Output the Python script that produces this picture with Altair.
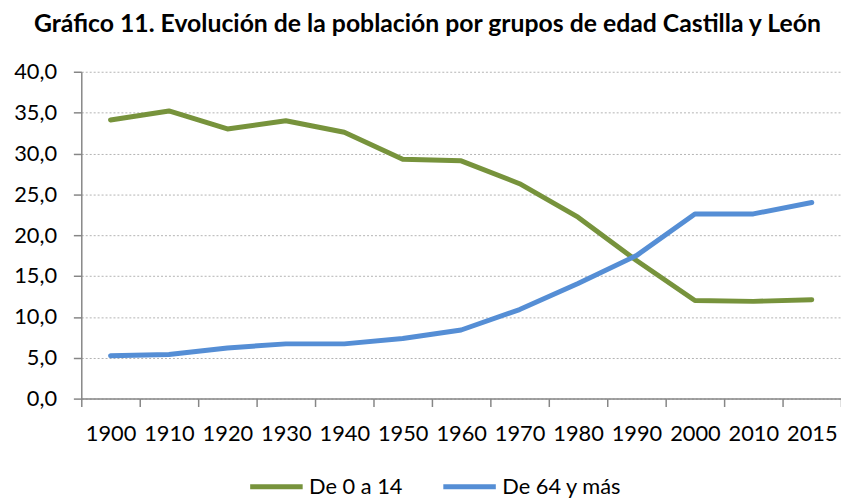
import altair as alt
import pandas as pd

years = ["1900", "1910", "1920", "1930", "1940", "1950", "1960",
         "1970", "1980", "1990", "2000", "2010", "2015"]
young = [34.1, 35.2, 33.0, 34.0, 32.6, 29.3, 29.1, 26.3, 22.2, 16.9, 12.0, 11.9, 12.1]
old = [5.25, 5.4, 6.2, 6.7, 6.7, 7.35, 8.4, 10.9, 14.1, 17.5, 22.6, 22.6, 24.0]
series = ["De 0 a 14", "De 64 y más"]
colors = ["#77933C", "#558ED5"]
y_ticks = [0, 5, 10, 15, 20, 25, 30, 35, 40]

rows = []
for y, v in zip(years, young):
    rows.append({"year": y, "value": v, "serie": series[0]})
for y, v in zip(years, old):
    rows.append({"year": y, "value": v, "serie": series[1]})
df = pd.DataFrame(rows)

FONT = "Lato"

chart = alt.Chart(df).mark_line(strokeWidth=5, strokeCap="round", strokeJoin="round").encode(
    x=alt.X("year:N", sort=years, bandPosition=0.5,
            scale=alt.Scale(type="band", paddingInner=0, paddingOuter=0),
            axis=alt.Axis(title=None, labelAngle=0, tickBand="extent", grid=False,
                          tickSize=8, labelPadding=17)),
    y=alt.Y("value:Q", scale=alt.Scale(domain=[0, 40], nice=False),
            axis=alt.Axis(title=None, values=y_ticks, tickSize=8, labelPadding=17,
                          labelExpr="replace(format(datum.value, '.1f'), '.', ',')",
                          grid=True, gridDash=[2, 2], gridColor="#B3B3B3", gridWidth=1)),
    color=alt.Color("serie:N", scale=alt.Scale(domain=series, range=colors),
                    legend=alt.Legend(title=None, orient="none", legendX=168, legendY=390,
                                      direction="horizontal", symbolType="stroke",
                                      symbolSize=2809, symbolStrokeWidth=5,
                                      labelFontSize=22, labelFont=FONT, labelColor="#000000",
                                      columnPadding=30, labelOffset=4)),
).properties(
    width=767,
    height=330,
    title=alt.TitleParams(
        "Gráfico 11. Evolución de la población por grupos de edad Castilla y León",
        font=FONT, fontSize=25, fontWeight="bold", color="#000000",
        anchor="middle", dx=-34, offset=24),
    autosize=alt.AutoSizeParams(type="none"),
    padding={"left": 74, "top": 62, "right": 0, "bottom": 100},
).configure_view(
    stroke=None
).configure_axis(
    labelFont=FONT, labelFontSize=22, labelColor="#000000",
    domainColor="#868686", domainWidth=1.5, tickColor="#868686", tickWidth=1.5,
)

chart.save("out.html", embed_options={"renderer": "svg", "actions": False})
